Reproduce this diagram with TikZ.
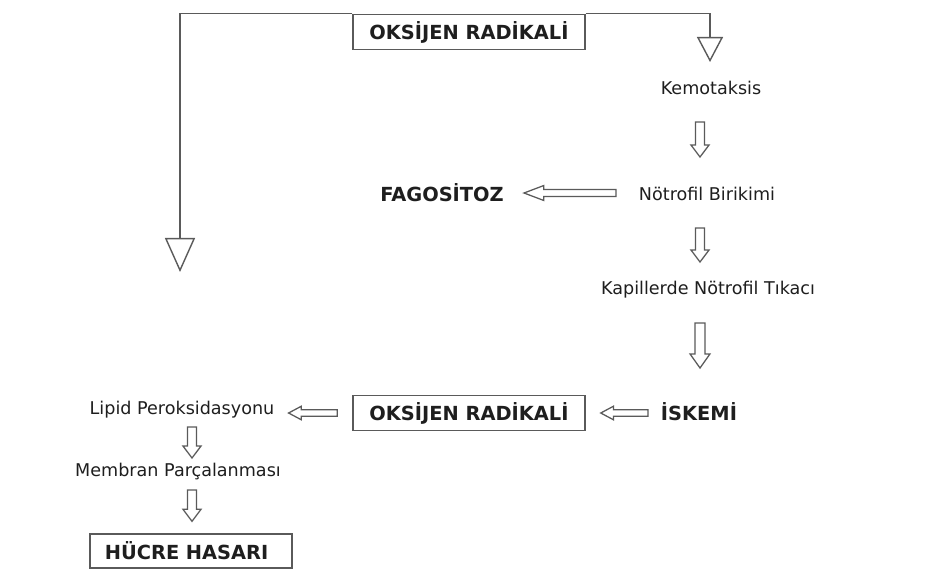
\documentclass[tikz,border=0pt]{standalone}
\usepackage{fontspec}
\setmainfont{DejaVu Sans}
\usepackage{tikz}
\usetikzlibrary{calc}
\usetikzlibrary{arrows.meta}

\definecolor{linegray}{HTML}{5A5A5A}
\definecolor{textdark}{HTML}{1E1E1E}

\tikzset{
	stage/.style={font=\fontsize{12.5}{15}\selectfont, text=textdark, inner sep=0pt},
	keyword/.style={font=\fontsize{13.8}{16}\selectfont\bfseries, text=textdark, inner sep=0pt},
	radbox/.style={keyword, draw=linegray, line width=1pt, minimum width=5.8cm, minimum height=0.875cm},
	hollow/.style={draw=linegray, line width=0.9pt, fill=white, line join=miter},
	flowline/.style={draw=linegray, line width=1pt}
}

\newcommand{\blockarrow}[5]{%
	\coordinate (hb) at ($(#2)!#5!(#1)$);
	\draw[hollow] ($(#1)!#3!90:(#2)$) -- ($(hb)!#3!90:(#2)$) -- ($(hb)!#4!90:(#2)$) -- (#2)
		-- ($(hb)!#4!-90:(#2)$) -- ($(hb)!#3!-90:(#2)$) -- ($(#1)!#3!-90:(#2)$) -- cycle;
}

\begin{document}
\begin{tikzpicture}[x=0.025cm, y=-0.025cm]
				\useasboundingbox (0,0) rectangle (939,579);

				\node[radbox] (box1) at (469,32) {OKSİJEN RADİKALİ};
				\node[stage] (kemo) at (711,88) {Kemotaksis};
				\node[stage] (noetro) at (707,194) {Nötrofil Birikimi};
				\node[keyword] (fago) at (442,193) {FAGOSİTOZ};
				\node[stage] (kapil) at (708,290) {Kapillerde Nötrofil Tıkacı};
				\node[keyword] (iskemi) at (699,412) {İSKEMİ};
				\node[radbox] (box2) at (469,413) {OKSİJEN RADİKALİ};
				\node[stage] (lipid) at (182,410) {Lipid Peroksidasyonu};
				\node[stage] (membran) at (178,472) {Membran Parçalanması};
				\node[keyword, draw=linegray, line width=1pt, text width=4.3cm, align=left, inner xsep=0.375cm, minimum height=0.85cm] (hucre) at (191,551) {HÜCRE HASARI};

				\coordinate (lt) at (180,272);
				\coordinate (rt) at (710,62);
				\draw[flowline, -{Triangle[open, length=0.85cm, width=0.75cm]}] (box1.north west) -| (lt);
				\draw[flowline, -{Triangle[open, length=0.625cm, width=0.65cm]}] (box1.north east) -| (rt);

				\coordinate (a1s) at ($(kemo)+(-11,34)$);
				\coordinate (a1e) at ($(noetro)+(-7,-37)$);
				\coordinate (a2s) at ($(noetro)+(-91,-1)$);
				\coordinate (a2e) at ($(fago.east)+(20,0)$);
				\coordinate (a3s) at ($(noetro)+(-7,34)$);
				\coordinate (a3e) at ($(kapil)+(-8,-28)$);
				\coordinate (a4s) at ($(kapil)+(-8,33)$);
				\coordinate (a4e) at ($(iskemi)+(1,-44)$);
				\coordinate (a5s) at ($(iskemi)+(-51,1)$);
				\coordinate (a5e) at ($(box2.east)+(15,0)$);
				\coordinate (a6s) at ($(box2.west)+(-15,0)$);
				\coordinate (a6e) at ($(lipid.east)+(14,3)$);
				\coordinate (a7s) at ($(lipid)+(10,17)$);
				\coordinate (a7e) at ($(membran)+(14,-14)$);
				\coordinate (a8s) at ($(membran)+(14,18)$);
				\coordinate (a8e) at ($(hucre.north)+(1,-12)$);

				\blockarrow{a1s}{a1e}{3.2pt}{6.4pt}{8.5pt}
				\blockarrow{a2s}{a2e}{2.5pt}{5.3pt}{14pt}
				\blockarrow{a3s}{a3e}{3.2pt}{6.4pt}{8.5pt}
				\blockarrow{a4s}{a4e}{3.6pt}{7.1pt}{10pt}
				\blockarrow{a5s}{a5e}{2.3pt}{4.8pt}{9pt}
				\blockarrow{a6s}{a6e}{2.3pt}{4.8pt}{9pt}
				\blockarrow{a7s}{a7e}{3.2pt}{6.4pt}{8.5pt}
				\blockarrow{a8s}{a8e}{3.2pt}{6.4pt}{8.5pt}
\end{tikzpicture}
\end{document}
